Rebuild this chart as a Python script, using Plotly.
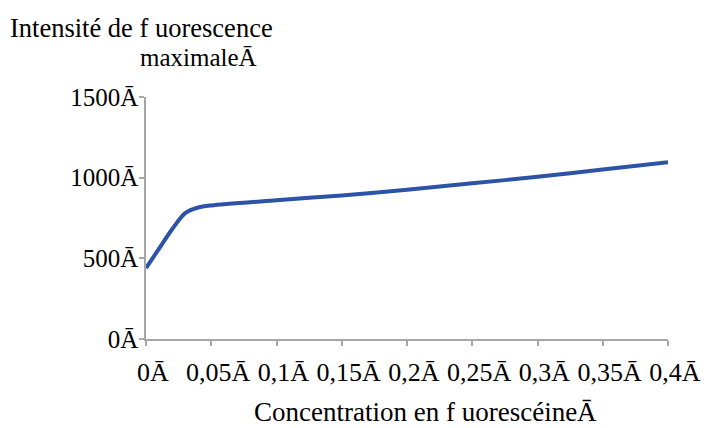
import plotly.graph_objects as go

concentration = [0, 0.01, 0.02, 0.03, 0.04, 0.05, 0.1, 0.15, 0.2, 0.25, 0.3, 0.35, 0.4]
intensite = [440, 560, 680, 780, 815, 828, 860, 890, 925, 965, 1005, 1050, 1095]

x_tickvals = [0, 0.05, 0.1, 0.15, 0.2, 0.25, 0.3, 0.35, 0.4]
x_ticktext = ["0Ā", "0,05Ā", "0,1Ā", "0,15Ā", "0,2Ā", "0,25Ā", "0,3Ā", "0,35Ā", "0,4Ā"]
y_tickvals = [0, 500, 1000, 1500]
y_ticktext = ["0Ā", "500Ā", "1000Ā", "1500Ā"]

title_line1 = "Intensité de f uorescence"
title_line2 = "maximaleĀ"
x_title = "Concentration en f uorescéineĀ"

FONT = "Liberation Serif, Times New Roman, serif"
L, R, T, B = 146, 39, 97, 89
W, H = 707, 428

fig = go.Figure()
fig.add_trace(go.Scatter(
    x=concentration, y=intensite, mode="lines",
    line=dict(color="#2C53A5", width=4, shape="spline", smoothing=0.8),
    hoverinfo="skip", showlegend=False,
))

fig.update_layout(
    width=W, height=H,
    margin=dict(l=L, r=R, t=T, b=B, autoexpand=False),
    paper_bgcolor="white", plot_bgcolor="white",
    font=dict(family=FONT, size=20, color="black"),
    xaxis=dict(
        range=[0, 0.4], tickvals=x_tickvals, ticktext=x_ticktext,
        showline=True, linecolor="#A6A6A6", linewidth=1.5,
        ticks="outside", ticklen=5, tickcolor="#A6A6A6", tickwidth=1.5,
        showgrid=False, zeroline=False, automargin=False,
        ticklabelstandoff=4, ticklabelshift=7,
        tickfont=dict(family=FONT, size=26, color="black"),
    ),
    yaxis=dict(
        range=[0, 1500], tickvals=y_tickvals, ticktext=y_ticktext,
        showline=True, linecolor="#A6A6A6", linewidth=1.5,
        ticks="outside", ticklen=5, tickcolor="#A6A6A6", tickwidth=1.5,
        showgrid=False, zeroline=False, automargin=False,
        ticklabelstandoff=-4,
        tickfont=dict(family=FONT, size=25, color="black"),
    ),
)

pw = W - L - R
ph = H - T - B
def px(x, y):
    return (x - L) / pw, (H - B - y) / ph

for text, x, y, anchor, size in [
    (title_line1, 8, 28, "left", 26.5),
    (title_line2, 138, 57, "left", 25),
    (x_title, 425, 412, "center", 27),
]:
    ax, ay = px(x, y)
    fig.add_annotation(text=text, x=ax, y=ay, xref="paper", yref="paper", showarrow=False,
                       xanchor=anchor, yanchor="middle",
                       font=dict(family=FONT, size=size, color="black"))

fig.write_html("out.html", config={"displayModeBar": False},
               post_script="document.body.style.margin='0';document.body.style.overflow='hidden';")
